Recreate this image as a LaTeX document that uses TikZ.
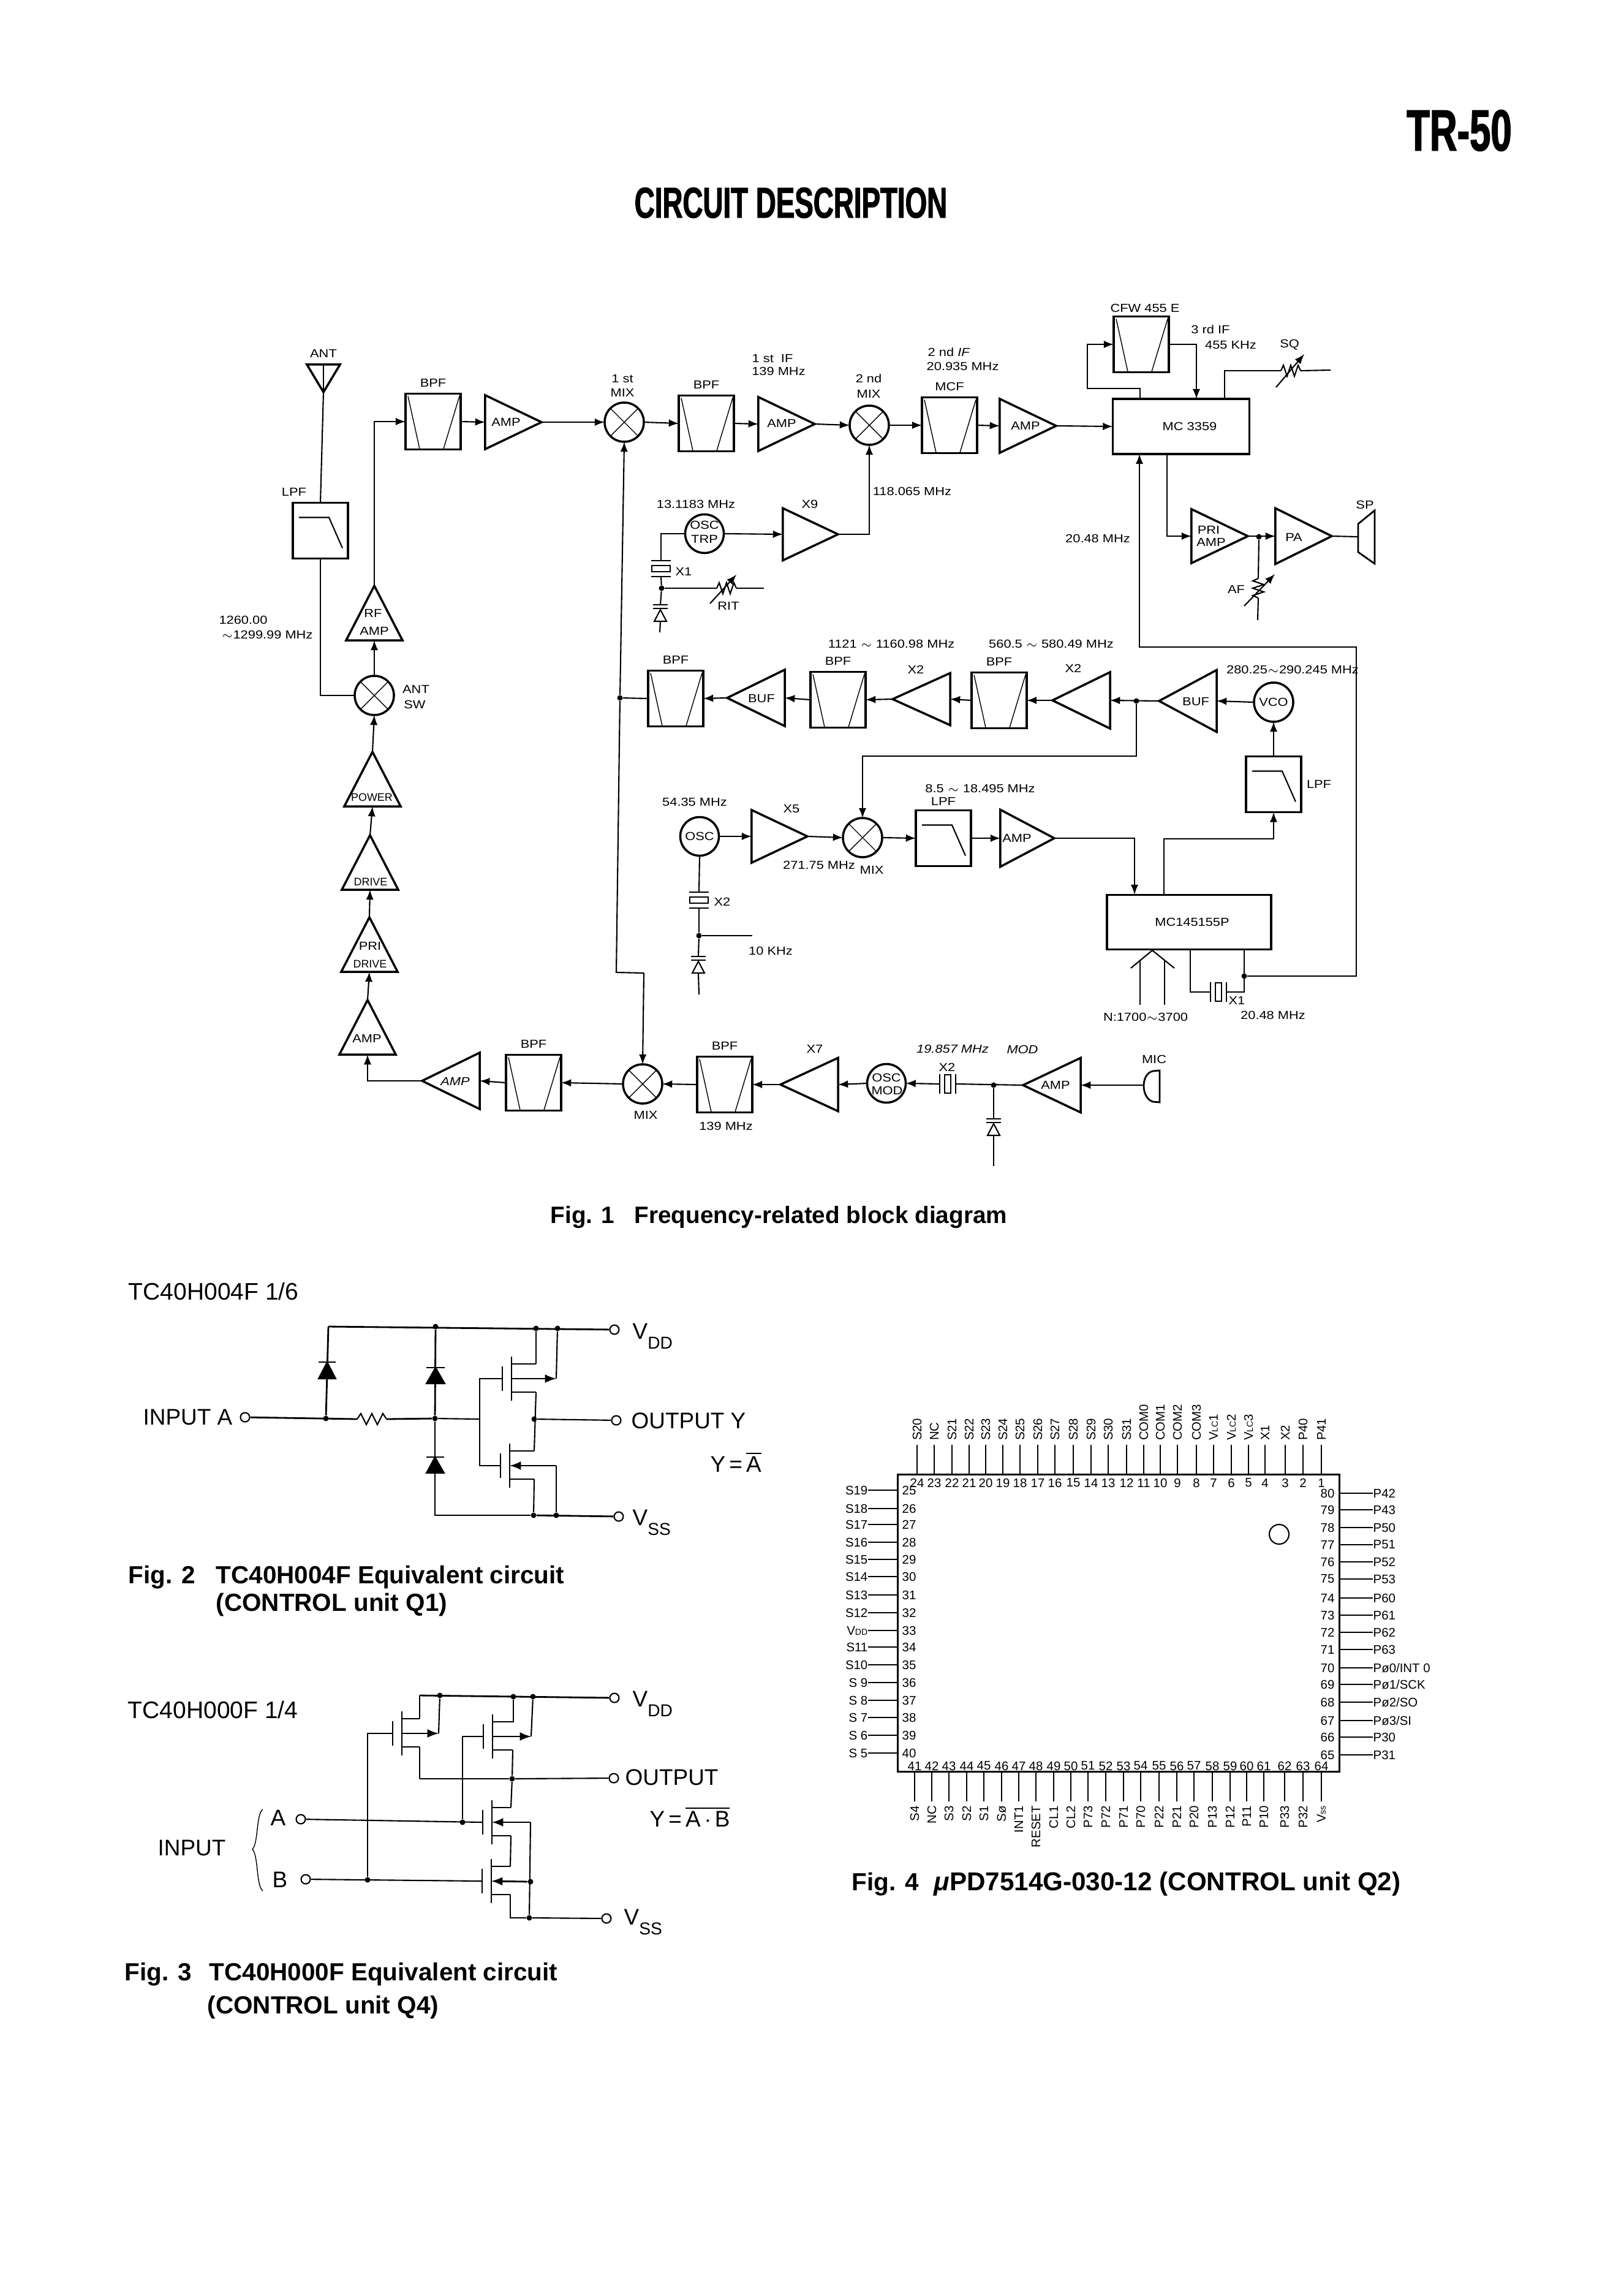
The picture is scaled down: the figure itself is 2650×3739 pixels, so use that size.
\documentclass[tikz,border=0pt]{standalone}
\usepackage{fontspec}
\setmainfont{Liberation Sans}
\newfontfamily\wideFont[FakeStretch=1.15]{Liberation Sans}
\newfontfamily\narrowFont[FakeStretch=.65,BoldFeatures={FakeBold=1.5}]{Liberation Sans}
\usetikzlibrary{positioning, shapes.geometric}
\newcommand\tagFont{\wideFont\fontsize{5.4}{6.5}\selectfont}
\newcommand\pinFont{\fontsize{5.8}{7}\selectfont}
\newcommand\subTag[1]{\raisebox{-.45em}{\fontsize{8}{8}\selectfont #1}}
\newcommand\lowTag[1]{{\fontsize{4}{4}\selectfont #1}}

\begin{document}
\begin{tikzpicture}[x=0.01cm, y=-0.01cm,
              wire/.style={line width=.6pt},
              thinWire/.style={line width=.4pt},
              heavyWire/.style={line width=.8pt},
              blockBox/.style={
                draw, line width=1pt, inner sep=0, outer sep=0,
                minimum width=.9cm, minimum height=.91cm
             },
              bpfBlock/.style={blockBox, path picture={
                \draw[thinWire] (path picture bounding box.north west) ++(4,4) -- ++(19,86)
                  (path picture bounding box.north east) ++(-2,4) -- ++(-26,86);}
             },
              lpfBlock/.style={blockBox, path picture={
                \draw[wire] (path picture bounding box.north west) ++(10,24) -- ++(49,0) -- ++(22,50);}
             },
              mixBlock/.style={
                circle, draw, line width=1pt, inner sep=0, outer sep=0, minimum size=.64cm,
                path picture={
                \draw[thinWire] (path picture bounding box.north west) -- (path picture bounding box.south east)
                  (path picture bounding box.north east) -- (path picture bounding box.south west);}
             },
              oscBlock/.style={
                circle, draw, line width=1pt, inner sep=0, outer sep=0, minimum size=.63cm
             },
              ampTri/.style={
                isosceles triangle, isosceles triangle stretches, draw, line width=1pt,
                inner sep=0, outer sep=0, anchor=apex
             },
              ampRight/.style={ampTri, shape border rotate=0, minimum width=.88cm, minimum height=.92cm},
              ampLeft/.style={ampTri, shape border rotate=180, minimum width=.92cm, minimum height=.94cm},
              ampUp/.style={ampTri, shape border rotate=90, minimum width=.92cm, minimum height=.89cm},
              icBlock/.style={draw, line width=1pt, inner sep=0, outer sep=0},
              tag/.style={inner sep=0, font=\tagFont},
              tightTag/.style={inner sep=0, font=\fontsize{5.1}{6}\selectfont},
              dot/.style={circle, fill, inner sep=0, minimum size=.09cm},
              term/.style={circle, draw, inner sep=0, minimum size=.15cm, line width=.6pt},
              bigTag/.style={inner sep=0, font=\fontsize{10.5}{12}\selectfont},
              nameTag/.style={inner sep=0, anchor=west, font=\fontsize{11.1}{13}\selectfont},
              capTag/.style={inner sep=0, anchor=west, font=\bfseries\fontsize{11}{13}\selectfont},
              capTagLg/.style={capTag, font=\bfseries\fontsize{11.5}{13}\selectfont},
              capTagXl/.style={capTag, font=\bfseries\fontsize{12}{14}\selectfont},
              pinTag/.style={inner sep=0, font=\pinFont},
              zigRes/.pic={
                \draw[wire] (-16,0) -- (-12,-9) -- (-6,9) -- (0,-9) -- (6,9) -- (12,-9) -- (16,0);
                \coordinate (-l) at (-16,0);
                \coordinate (-r) at (16,0);
             },
              xtalSym/.pic={
                \draw[heavyWire] (-16,-13) -- (16,-13) (-16,13) -- (16,13);
                \draw[wire] (-15,-5) rectangle (15,5);
                \coordinate (-t) at (0,-13);
                \coordinate (-b) at (0,13);
             },
              varCap/.pic={
                \draw[heavyWire] (-12,0) -- (12,0) (-12,6) -- (12,6);
                \draw[wire] (-10,27) -- (10,27) -- (0,8) -- cycle;
                \coordinate (-t) at (0,0);
                \coordinate (-b) at (0,27);
             },
              pics/mosFet/.style={code={
                \draw[heavyWire] (0,-36) -- (0,36);
                \draw[heavyWire] (-15,-20) -- (-15,20);
                \draw[wire] (0,-24) -- (#1,-24) (0,22) -- (#1,22);
                \coordinate (-g) at (-15,0);
                \coordinate (-bk) at (0,0);
                \coordinate (-t) at (#1,-24);
                \coordinate (-b) at (#1,22);
             }} ]
\useasboundingbox (0,0) rectangle (2650,3739);

% page heads
\node[inner sep=0, font=\narrowFont\bfseries\fontsize{27}{30}\selectfont] (pageNo) at (2382,213) {TR-50};
\node[inner sep=0, font=\narrowFont\bfseries\fontsize{20}{24}\selectfont] (pageHead) at (1291,331) {CIRCUIT DESCRIPTION};

% Fig. 1, receive line
\node[ampTri, shape border rotate=270, minimum width=.54cm, minimum height=.45cm] (ant) at (528,640) {};
\draw[thinWire] (ant.apex) -- (ant.lower side);
\node[tag, above=3pt of ant] (antTag) {ANT};
\node[lpfBlock] (lpfa) at (523,866) {};
\node[tag] (lpfaTag) at (480,803) {LPF};
\node[mixBlock] (antSw) at (611,1135) {};
\node[tag] (antSwTag) at (679,1125) {ANT};
\node[tag] (antSwTagb) at (677,1150) {SW};
\node[ampUp] (rfAmp) at (611,956) {};
\node[tag] (rfAmpTag) at (609,1001) {RF};
\node[tag] (rfAmpTagb) at (611,1030) {AMP};
\node[tag] (rxTag) at (397,1012) {1260.00};
\node[tag] (rxTagb) at (436,1036) {$\sim$1299.99 MHz};
\node[bpfBlock] (bpfa) at (707,688) {};
\node[tag, above=3pt of bpfa] (bpfaTag) {BPF};
\node[ampRight] (ampa) at (884,689) {};
\node[tag] (ampaTag) at (826,689) {AMP};
\node[mixBlock] (mixa) at (1019,689) {};
\node[tag] (mixaTag) at (1016,618) {1 st};
\node[tag] (mixaTagb) at (1016,641) {MIX};
\node[bpfBlock] (bpfb) at (1153,691) {};
\node[tag, above=3pt of bpfb] (bpfbTag) {BPF};
\node[tag] (ifaTag) at (1261,585) {1 st \ IF};
\node[tag] (ifaTagb) at (1271,606) {139 MHz};
\node[ampRight] (ampb) at (1330,692) {};
\node[tag] (ampbTag) at (1276,691) {AMP};
\node[mixBlock] (mixb) at (1419,694) {};
\node[tag] (mixbTag) at (1418,618) {2 nd};
\node[tag] (mixbTagb) at (1418,643) {MIX};
\node[bpfBlock] (mcf) at (1550,694) {};
\node[tag, above=3pt of mcf] (mcfTag) {MCF};
\node[tag, anchor=west] (ifbTag) at (1514,575) {2 nd \textit{IF}};
\node[tag, anchor=west] (ifbTagb) at (1512,598) {20.935 MHz};
\node[ampRight] (ampc) at (1724,695) {};
\node[tag] (ampcTag) at (1674,695) {AMP};
\node[icBlock, minimum width=2.23cm, minimum height=.9cm] (mcChip) at (1928,696) {};
\node[tag] (mcChipTag) at (1942,696) {MC 3359};
\node[bpfBlock] (cfw) at (1863,562) {};
\node[tag] (cfwTag) at (1869,503) {CFW 455 E};
\node[tag] (ifcTag) at (1976,538) {3 rd IF};
\node[tag] (ifcTagb) at (2009,563) {455 KHz};
\node[tag] (sqTag) at (2105,563) {SQ};
\pic (sqRes) at (2107,605) {zigRes};
\node[ampRight] (priAmp) at (2037,875) {};
\node[tag] (priAmpTag) at (1973,865) {PRI};
\node[tag] (priAmpTagb) at (1977,885) {AMP};
\node[ampRight, minimum width=.91cm] (paAmp) at (2174,875) {};
\node[tag] (paAmpTag) at (2112,877) {PA};
\node[dot] (jAf) at (2055,876) {};
\pic[rotate=90] (afRes) at (2054,960) {zigRes};
\node[tag] (afTag) at (2018,962) {AF};
\node[tag] (spTag) at (2228,824) {SP};
\draw[heavyWire] (2217,855) -- (2244,833) -- (2244,920) -- (2217,901) -- cycle;
\coordinate (spkIn) at (2217,876);
\coordinate (sqEnd) at (2172,604);
\coordinate (afEnd) at (2053,1012);
\coordinate (sqSlashA) at (2083,632);
\coordinate (sqSlashB) at (2129,578);
\coordinate (afSlashA) at (2031,989);
\coordinate (afSlashB) at (2081,937);
\coordinate (mcIf) at (1861,651);
\coordinate (cfwTurn) at (1775,634);
\coordinate (mcBack) at (1953,651);
\coordinate (mcSq) at (1999,651);
\coordinate (mcAf) at (1905,741);

\draw[wire] (ant.apex) -- (lpfa.north);
\draw[wire] (lpfa.south) |- (antSw.west);
\draw[wire,-latex] (antSw.north) -- (rfAmp.lower side);
\draw[wire,-latex] (rfAmp.apex) |- (bpfa.west);
\draw[wire,-latex] (bpfa.east) -- (ampa.lower side);
\draw[wire,-latex] (ampa.apex) -- (mixa.west);
\draw[wire,-latex] (mixa.east) -- (bpfb.west);
\draw[wire,-latex] (bpfb.east) -- (ampb.lower side);
\draw[wire,-latex] (ampb.apex) -- (mixb.west);
\draw[wire,-latex] (mixb.east) -- (mcf.west);
\draw[wire,-latex] (mcf.east) -- (ampc.lower side);
\draw[wire,-latex] (ampc.apex) -- (mcChip.west);
\draw[wire,-latex] (mcIf) |- (cfwTurn) |- (cfw.west);
\draw[wire,-latex] (cfw.east) -| (mcBack);
\draw[wire] (mcSq) |- (sqRes-l);
\draw[wire] (sqRes-r) -- (sqEnd);
\draw[wire,-latex] (sqSlashA) -- (sqSlashB);
\draw[wire,-latex] (mcAf) |- (priAmp.lower side);
\draw[wire,-latex] (priAmp.apex) -- (paAmp.lower side);
\draw[wire] (jAf) -- (afRes-r);
\draw[wire] (afRes-l) -- (afEnd);
\draw[wire,-latex] (afSlashA) -- (afSlashB);
\draw[wire] (paAmp.apex) -- (spkIn);

% Fig. 1, first oscillator
\node[oscBlock] (oscTrp) at (1150,871) {};
\node[tag] (oscTrpTag) at (1150,857) {OSC};
\node[tag] (oscTrpTagb) at (1150,880) {TRP};
\node[tag] (oscTrpFreq) at (1136,823) {13.1183 MHz};
\node[ampRight, minimum width=.85cm, minimum height=.9cm] (xNine) at (1368,872) {};
\node[tag] (xNineTag) at (1322,823) {X9};
\node[tag] (secLoTag) at (1489,802) {118.065 MHz};
\pic (xtalTrp) at (1079,928) {xtalSym};
\node[tag] (xtalTrpTag) at (1116,933) {X1};
\node[dot] (jTrp) at (1080,960) {};
\pic (varTrp) at (1078,987) {varCap};
\pic (ritRes) at (1186,960) {zigRes};
\node[tag] (ritTag) at (1189,989) {RIT};
\coordinate (ritEnd) at (1247,960);
\coordinate (trpEnd) at (1077,1032);
\coordinate (ritSlashA) at (1159,985);
\coordinate (ritSlashB) at (1202,938);
\draw[wire,-latex] (xNine.apex) -| (mixb.south);
\draw[wire,-latex] (oscTrp.east) -- (xNine.lower side);
\draw[wire] (oscTrp.west) -| (xtalTrp-t);
\draw[wire] (xtalTrp-b) -- (jTrp);
\draw[wire] (jTrp) -- (varTrp-t);
\draw[wire] (varTrp-b) -- (trpEnd);
\draw[wire] (jTrp) -- (ritRes-l);
\draw[wire] (ritRes-r) -- (ritEnd);
\draw[wire,-latex] (ritSlashA) -- (ritSlashB);

% Fig. 1, multiplier chain
\node[oscBlock, minimum size=.64cm] (vco) at (2079,1146) {};
\node[tag] (vcoTag) at (2079,1146) {VCO};
\node[ampLeft, minimum width=1.01cm] (bufb) at (1892,1144) {};
\node[tag] (bufbTag) at (1952,1145) {BUF};
\node[ampLeft] (xTwob) at (1718,1143) {};
\node[tag] (xTwobTag) at (1752,1091) {X2};
\node[bpfBlock] (bpfe) at (1631,1143) {};
\node[tag, above=3pt of bpfe] (bpfeTag) {BPF};
\node[ampLeft, minimum width=.85cm] (xTwoa) at (1457,1141) {};
\node[tag] (xTwoaTag) at (1495,1093) {X2};
\node[bpfBlock] (bpfd) at (1368,1142) {};
\node[tag, above=3pt of bpfd] (bpfdTag) {BPF};
\node[ampLeft] (bufa) at (1187,1139) {};
\node[tag] (bufaTag) at (1243,1140) {BUF};
\node[bpfBlock] (bpfc) at (1103,1140) {};
\node[tag, above=3pt of bpfc] (bpfcTag) {BPF};
\node[dot] (jLo) at (1012,1139) {};
\node[dot] (jBuf) at (1855,1144) {};
\node[tag] (chainTaga) at (1455,1051) {1121 $\sim$ 1160.98 MHz};
\node[tag] (chainTagb) at (1716,1051) {560.5 $\sim$ 580.49 MHz};
\node[tag] (vcoFreq) at (2110,1093) {280.25$\sim$290.245 MHz};
\node[tag] (refFreq) at (1792,879) {20.48 MHz};
\coordinate (loDownA) at (1006,1587);
\coordinate (loDownB) at (1051,1588);
\coordinate (loTurn) at (1408,1234);
\draw[wire,-latex] (vco.west) -- (bufb.lower side);
\draw[wire,-latex] (bufb.apex) -- (xTwob.lower side);
\draw[wire,-latex] (xTwob.apex) -- (bpfe.east);
\draw[wire,-latex] (bpfe.west) -- (xTwoa.lower side);
\draw[wire,-latex] (xTwoa.apex) -- (bpfd.east);
\draw[wire,-latex] (bpfd.west) -- (bufa.lower side);
\draw[wire,-latex] (bufa.apex) -- (bpfc.east);
\draw[wire] (bpfc.west) -- (jLo);
\draw[wire,-latex] (jLo) -- (mixa.south);

% Fig. 1, loop
\node[oscBlock] (osc) at (1142,1365) {};
\node[tag] (oscTag) at (1142,1365) {OSC};
\node[tag] (oscFreq) at (1134,1309) {54.35 MHz};
\node[ampRight, minimum width=.86cm, minimum height=.91cm] (xFive) at (1318,1365) {};
\node[tag] (xFiveTag) at (1292,1320) {X5};
\node[tag] (xFiveFreq) at (1337,1412) {271.75 MHz};
\node[mixBlock] (mixd) at (1408,1367) {};
\node[tag] (mixdTag) at (1423,1420) {MIX};
\node[lpfBlock] (lpfc) at (1540,1368) {};
\node[tag, above=2pt of lpfc] (lpfcTag) {LPF};
\node[tag] (lpfcFreq) at (1600,1287) {8.5 $\sim$ 18.495 MHz};
\node[ampRight, minimum width=.93cm, minimum height=.88cm] (ampd) at (1721,1368) {};
\node[tag] (ampdTag) at (1660,1368) {AMP};
\node[icBlock, minimum width=2.68cm, minimum height=.89cm] (pllChip) at (1941,1505) {};
\node[tag] (pllChipTag) at (1946,1505) {MC145155P};
\node[lpfBlock] (lpfb) at (2079,1280) {};
\node[tag] (lpfbTag) at (2153,1280) {LPF};
\pic[rotate=90] (xtalPll) at (1989,1619) {xtalSym};
\node[tag] (xtalPllTag) at (2019,1633) {X1};
\node[tag] (xtalPllFreq) at (2078,1657) {20.48 MHz};
\node[dot] (jRef) at (2031,1593) {};
\node[tag] (divTag) at (1870,1660) {N:1700$\sim$3700};
\pic (xtalOsc) at (1141,1469) {xtalSym};
\node[tag] (xtalOscTag) at (1179,1472) {X2};
\node[dot] (jOsc) at (1141,1527) {};
\pic (varOsc) at (1140,1561) {varCap};
\node[tag] (tenTag) at (1258,1552) {10 KHz};
\draw[wire] (1846,1580) -- (1881,1551) -- (1917,1580);
\draw[wire] (1861,1568) -- (1861,1640) (1901,1568) -- (1901,1640);
\coordinate (tenEnd) at (1228,1527);
\coordinate (oscEnd) at (1141,1623);
\coordinate (pllIn) at (1852,1460);
\coordinate (pllOut) at (1900,1460);
\coordinate (pllTurn) at (2079,1369);
\coordinate (pllXa) at (1943,1549);
\coordinate (pllXb) at (2031,1549);
\coordinate (refB) at (2214,1056);
\coordinate (refC) at (1860,1056);
\coordinate (mcRef) at (1860,741);
\draw[wire] (jLo) -- (loDownA) -- (loDownB);
\draw[wire,-latex] (jBuf) |- (loTurn) -- (mixd.north);
\draw[wire,-latex] (osc.east) -- (xFive.lower side);
\draw[wire,-latex] (xFive.apex) -- (mixd.west);
\draw[wire,-latex] (mixd.east) -- (lpfc.west);
\draw[wire,-latex] (lpfc.east) -- (ampd.lower side);
\draw[wire,-latex] (ampd.apex) -| (pllIn);
\draw[wire,-latex] (pllOut) |- (pllTurn) -- (lpfb.south);
\draw[wire,-latex] (lpfb.north) -- (vco.south);
\draw[wire] (pllXa) |- (xtalPll-t);
\draw[wire] (pllXb) |- (xtalPll-b);
\draw[wire,-latex] (jRef) -| (refB) -- (refC) -- (mcRef);
\draw[wire] (osc.south) -- (xtalOsc-t);
\draw[wire] (xtalOsc-b) -- (jOsc);
\draw[wire] (jOsc) -- (tenEnd);
\draw[wire] (jOsc) -- (varOsc-t);
\draw[wire] (varOsc-b) -- (oscEnd);

% Fig. 1, transmit line
\node[ampUp] (power) at (608,1227) {};
\node[tightTag] (powerTag) at (607,1301) {POWER};
\node[ampUp] (drive) at (604,1363) {};
\node[tightTag] (driveTag) at (605,1439) {DRIVE};
\node[ampUp] (priDrive) at (603,1497) {};
\node[tag] (priDriveTag) at (604,1544) {PRI};
\node[tightTag] (priDriveTagb) at (604,1573) {DRIVE};
\node[ampUp] (ampPre) at (600,1632) {};
\node[tag] (ampPreTag) at (599,1695) {AMP};
\node[ampLeft] (ampe) at (689,1764) {};
\node[tag] (ampeTag) at (743,1765) {\textit{AMP}};
\node[bpfBlock] (bpff) at (871,1767) {};
\node[tag, above=3pt of bpff] (bpffTag) {BPF};
\node[mixBlock] (mixc) at (1049,1769) {};
\node[tag] (mixcTag) at (1054,1820) {MIX};
\node[bpfBlock] (bpfg) at (1183,1770) {};
\node[tag, above=3pt of bpfg] (bpfgTag) {BPF};
\node[tag] (bpfgFreq) at (1185,1838) {139 MHz};
\node[ampLeft, minimum width=.87cm] (xSeven) at (1274,1770) {};
\node[tag] (xSevenTag) at (1330,1712) {X7};
\node[oscBlock] (oscMod) at (1447,1768) {};
\node[tag] (oscModTag) at (1447,1759) {OSC};
\node[tag] (oscModTagb) at (1448,1780) {MOD};
\pic[rotate=90] (xtalMod) at (1547,1769) {xtalSym};
\node[tag] (xtalModTag) at (1546,1742) {X2};
\node[tag] (modFreq) at (1555,1712) {\textit{19.857 MHz}};
\node[tag] (modTag) at (1669,1713) {\textit{MOD}};
\node[dot] (jMod) at (1622,1771) {};
\pic (varMod) at (1622,1826) {varCap};
\node[ampLeft, minimum width=.89cm] (ampf) at (1670,1771) {};
\node[tag] (ampfTag) at (1723,1771) {AMP};
\node[tag] (micTag) at (1884,1729) {MIC};
\draw[heavyWire] (1893,1747) -- (1882,1748) .. controls (1862,1752) and (1862,1792) .. (1882,1798) -- (1893,1799) -- cycle;
\coordinate (micOut) at (1868,1771);
\coordinate (modEnd) at (1622,1903);
\draw[wire,-latex] (loDownB) -- (mixc.north);
\draw[wire,-latex] (power.apex) -- (antSw.south);
\draw[wire,-latex] (drive.apex) -- (power.lower side);
\draw[wire,-latex] (priDrive.apex) -- (drive.lower side);
\draw[wire,-latex] (ampPre.apex) -- (priDrive.lower side);
\draw[wire,-latex] (ampe.apex) -| (ampPre.lower side);
\draw[wire,-latex] (bpff.west) -- (ampe.lower side);
\draw[wire,-latex] (mixc.west) -- (bpff.east);
\draw[wire,-latex] (bpfg.west) -- (mixc.east);
\draw[wire,-latex] (xSeven.apex) -- (bpfg.east);
\draw[wire,-latex] (oscMod.west) -- (xSeven.lower side);
\draw[wire,-latex] (xtalMod-t) -- (oscMod.east);
\draw[wire] (ampf.apex) -- (xtalMod-b);
\draw[wire] (jMod) -- (varMod-t);
\draw[wire] (varMod-b) -- (modEnd);
\draw[wire,-latex] (micOut) -- (ampf.lower side);

\node[capTag] (capOne) at (898,1987) {Fig. 1};
\node[capTag] (capOneb) at (1035,1987) {Frequency-related block diagram};

% Fig. 2
\node[nameTag] (invName) at (209,2108) {TC40H004F 1/6};
\node[bigTag, anchor=east] (invIn) at (380,2313) {INPUT A};
\node[term] (invA) at (400,2313) {};
\node[term] (invVdd) at (1003,2170) {};
\node[term] (invOut) at (1006,2318) {};
\node[term] (invVss) at (1010,2475) {};
\node[bigTag, anchor=base west] (invVddTag) at (1032,2185) {V\subTag{DD}};
\node[bigTag, anchor=west] (invOutTag) at (1030,2319) {OUTPUT Y};
\node[bigTag, anchor=base west] (invVssTag) at (1032,2489) {V\subTag{SS}};
\node[bigTag, anchor=west] (invEq) at (1159,2386) {Y\,=\,$\overline{\mbox{A}}$};
\node[dot] (dInA) at (532,2315) {};
\node[dot] (dInB) at (710,2315) {};
\node[dot] (dTopA) at (711,2165) {};
\node[dot] (dTopB) at (875,2168) {};
\node[dot] (dTopC) at (910,2168) {};
\node[dot] (dOut) at (872,2316) {};
\node[dot] (dLowA) at (871,2473) {};
\node[dot] (dLowB) at (908,2473) {};
\pic[xscale=1.5] (invRes) at (607,2316) {zigRes};
\pic (invP) at (835,2250) {mosFet=40};
\pic (invN) at (832,2392) {mosFet=40};
\coordinate (dTopL) at (536,2165);
\coordinate (dLowL) at (710,2472);
\coordinate (dGate) at (783,2316);
\draw[wire, fill] (534,2223) -- (520,2250) -- (548,2250) -- cycle;
\draw[heavyWire] (520,2223) -- (548,2223);
\draw[wire, fill] (711,2232) -- (696,2258) -- (726,2258) -- cycle;
\draw[heavyWire] (696,2232) -- (726,2232);
\draw[wire, fill] (710,2378) -- (696,2404) -- (725,2404) -- cycle;
\draw[heavyWire] (696,2378) -- (725,2378);
\draw[heavyWire] (invA) -- (invRes-l);
\draw[heavyWire] (invRes-r) -- (dInB);
\draw[wire] (dInB) -- (dGate);
\draw[heavyWire] (dTopL) -- (invVdd);
\draw[heavyWire] (dTopL) -- (dInA);
\draw[heavyWire] (dTopA) -- (dInB);
\draw[heavyWire] (dInB) |- (dLowA);
\draw[heavyWire] (dLowA) -- (invVss);
\draw[wire] (dOut) -- (invOut);
\draw[wire] (dTopB) |- (invP-t);
\draw[wire] (invP-b) -- (invN-t);
\draw[wire] (invN-b) -- (dLowA);
\draw[wire] (invN-t) -- ++(-40,0);
\draw[wire] (invP-g) -| (dGate);
\draw[wire] (invN-g) -| (dGate);
\coordinate (invPbk) at (908,2250);
\coordinate (invNbk) at (908,2392);
\draw[heavyWire,-latex] (invP-bk) -- (invPbk);
\draw[wire] (invPbk) -- (dTopC);
\draw[heavyWire,-latex] (invNbk) -- (invN-bk);
\draw[wire] (invNbk) -- (dLowB);
\node[capTagLg] (capTwo) at (209,2574) {Fig. 2};
\node[capTagLg] (capTwob) at (352,2574) {TC40H004F Equivalent circuit};
\node[capTagLg] (capTwoc) at (352,2619) {(CONTROL unit Q1)};

% Fig. 3
\node[nameTag] (nandName) at (208,2791) {TC40H000F 1/4};
\node[bigTag] (nandIn) at (313,3016) {INPUT};
\node[bigTag] (nandATag) at (454,2967) {A};
\node[bigTag] (nandBTag) at (457,3068) {B};
\node[term] (nandA) at (491,2969) {};
\node[term] (nandB) at (499,3067) {};
\node[term] (nandVdd) at (1003,2771) {};
\node[term] (nandOut) at (1002,2902) {};
\node[term] (nandVss) at (990,3131) {};
\node[bigTag, anchor=base west] (nandVddTag) at (1032,2785) {V\subTag{DD}};
\node[bigTag, anchor=west] (nandOutTag) at (1020,2901) {OUTPUT};
\node[bigTag, anchor=base west] (nandVssTag) at (1018,3141) {V\subTag{SS}};
\node[bigTag, anchor=west] (nandEq) at (1060,2965) {Y\,=\,$\overline{\mbox{A\,$\cdot$\,B}}$};
\draw[thinWire] (429,2953) .. controls (418,2960) and (422,3008) .. (412,3018) .. controls (422,3028) and (418,3078) .. (429,3086);
\pic (nandPa) at (656,2829) {mosFet=29};
\pic (nandPb) at (804,2834) {mosFet=33};
\pic (nandNa) at (803,2974) {mosFet=31};
\pic (nandNb) at (802,3070) {mosFet=31};
\node[dot] (nTopA) at (718,2767) {};
\node[dot] (nTopB) at (838,2769) {};
\node[dot] (nTopC) at (870,2769) {};
\node[dot] (nOut) at (836,2903) {};
\node[dot] (nGateA) at (755,2974) {};
\node[dot] (nGateB) at (600,3068) {};
\node[dot] (nBulk) at (866,3071) {};
\node[dot] (nLow) at (864,3130) {};
\coordinate (nTopL) at (685,2767);
\coordinate (nOutL) at (685,2903);
\coordinate (nPaBk) at (716,2829);
\coordinate (nPbBk) at (867,2834);
\coordinate (nNaBk) at (866,2974);
\draw[heavyWire] (nTopL) -- (nandVdd);
\draw[wire] (nandPa-t) -- (nTopL);
\draw[wire] (nandPb-t) -| (nTopB);
\draw[heavyWire,-latex] (nandPa-bk) -- (nPaBk);
\draw[wire] (nPaBk) -- (nTopA);
\draw[heavyWire,-latex] (nandPb-bk) -- (nPbBk);
\draw[wire] (nPbBk) -- (nTopC);
\draw[wire] (nandPa-b) -- (nOutL);
\draw[heavyWire] (nOutL) -- (nOut);
\draw[wire] (nOut) -- (nandOut);
\draw[wire] (nandPb-b) -- (nOut);
\draw[wire] (nOut) -- (nandNa-t);
\draw[wire] (nandNa-b) -- (nandNb-t);
\draw[wire] (nandNb-b) |- (nLow);
\draw[wire] (nLow) -- (nandVss);
\draw[wire] (nNaBk) -- (nLow);
\draw[heavyWire,-latex] (nNaBk) -- (nandNa-bk);
\draw[heavyWire,-latex] (nBulk) -- (nandNb-bk);
\draw[wire] (nandA) -- (nandNa-g);
\draw[wire] (nandB) -- (nandNb-g);
\draw[wire] (nGateA) |- (nandPb-g);
\draw[wire] (nGateB) |- (nandPa-g);
\node[capTagLg] (capThree) at (203,3222) {Fig. 3};
\node[capTagLg] (capThreeb) at (341,3222) {TC40H000F Equivalent circuit};
\node[capTagLg] (capThreec) at (338,3276) {(CONTROL unit Q4)};

% Fig. 4
\node[icBlock, minimum width=7.21cm, minimum height=4.85cm] (pdChip) at (1826,2649) {};
\node[circle, draw, wire, inner sep=0, minimum size=.32cm] (pdMark) at (2088,2504) {};
\foreach \px/\num/\nm in {1497/24/S20, 1525/23/NC, 1554/22/S21, 1582/21/S22, 1609/20/S23, 1637/19/S24,
  1665/18/S25, 1694/17/S26, 1722/16/S27, 1752/15/S28, 1781/14/S29, 1809/13/S30, 1839/12/S31,
  1867/11/COM0, 1894/10/COM1, 1922/9/COM2, 1953/8/COM3, 1981/7/V\lowTag{LC}1, 2010/6/V\lowTag{LC}2,
  2038/5/V\lowTag{LC}3, 2065/4/X1, 2098/3/X2, 2127/2/P40, 2157/1/P41}{
  \node[pinTag, rotate=90, anchor=west, outer sep=2pt] (topTag\num) at (\px,2358) {\nm};
  \node[pinTag] (numTag\num) at (\px,2420) {\num};
  \draw[thinWire] (topTag\num.west) -- (topTag\num.west |- pdChip.north);
}
\foreach \px/\num/\nm in {1493/41/S4, 1521/42/NC, 1549/43/S3, 1578/44/S2, 1606/45/S1, 1635/46/Sø,
  1663/47/INT1, 1691/48/RESET, 1720/49/CL1, 1748/50/CL2, 1776/51/P73, 1805/52/P72, 1834/53/P71,
  1862/54/P70, 1892/55/P22, 1921/56/P21, 1949/57/P20, 1979/58/P13, 2008/59/P12, 2035/60/P11,
  2063/61/P10, 2097/62/P33, 2127/63/P32, 2157/64/V\lowTag{ss}}{
  \node[pinTag, rotate=90, anchor=east, outer sep=2pt] (botTag\num) at (\px,2940) {\nm};
  \node[pinTag] (numTag\num) at (\px,2882) {\num};
  \draw[thinWire] (botTag\num.east) -- (botTag\num.east |- pdChip.south);
}
\foreach \py/\num/\nm in {2432/25/S19, 2462/26/S18, 2488/27/S17, 2517/28/S16, 2545/29/S15, 2573/30/S14,
  2603/31/S13, 2632/32/S12, 2661/33/V\lowTag{DD}, 2688/34/S11, 2717/35/S10, 2746/36/S 9, 2775/37/S 8,
  2803/38/S 7, 2832/39/S 6, 2861/40/S 5}{
  \node[pinTag, anchor=east] (leftTag\num) at (1417,\py) {\nm};
  \node[pinTag] (numTag\num) at (1484,\py) {\num};
  \draw[wire] (leftTag\num.east) -- (leftTag\num.east -| pdChip.west);
}
\foreach \py/\num/\nm in {2437/80/P42, 2464/79/P43, 2493/78/P50, 2521/77/P51, 2549/76/P52, 2577/75/P53,
  2608/74/P60, 2636/73/P61, 2664/72/P62, 2692/71/P63, 2722/70/{Pø0/INT 0}, 2749/69/{Pø1/SCK},
  2778/68/{Pø2/SO}, 2808/67/{Pø3/SI}, 2835/66/P30, 2864/65/P31}{
  \node[pinTag, anchor=west] (rightTag\num) at (2241,\py) {\nm};
  \node[pinTag] (numTag\num) at (2167,\py) {\num};
  \draw[wire] (rightTag\num.west) -- (rightTag\num.west -| pdChip.east);
}
\node[capTagLg] (capFour) at (1390,3075) {Fig. 4};
\node[capTagXl] (capFourb) at (1524,3075) {\textit{μ}PD7514G-030-12 (CONTROL unit Q2)};

\end{tikzpicture}
\end{document}
